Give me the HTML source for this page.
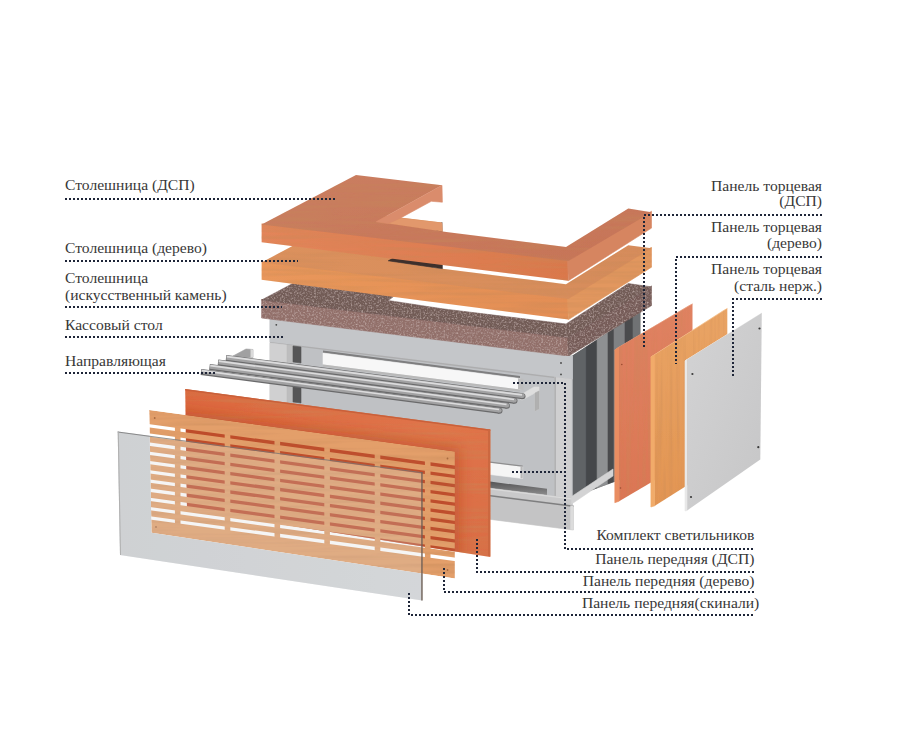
<!DOCTYPE html>
<html><head><meta charset="utf-8">
<style>
html,body{margin:0;padding:0;background:#fff;}
body{width:900px;height:746px;overflow:hidden;position:relative;}
svg{position:absolute;left:0;top:0;}
.t{font-family:"Liberation Serif",serif;font-size:15.6px;fill:#383838;}
.d{stroke:#1e2538;stroke-width:2;stroke-dasharray:2 2;fill:none;shape-rendering:crispEdges;}
</style></head><body>
<svg width="900" height="746" viewBox="0 0 900 746">

<defs>
<linearGradient id="dspTop" x1="0" y1="0" x2="1" y2="1">
<stop offset="0" stop-color="#ca7e60"/><stop offset="1" stop-color="#c67458"/></linearGradient>
<linearGradient id="dspFront" x1="0" y1="0" x2="1" y2="0">
<stop offset="0" stop-color="#e3855a"/><stop offset="1" stop-color="#da784c"/></linearGradient>
<linearGradient id="woodTop" x1="0" y1="0" x2="1" y2="0">
<stop offset="0" stop-color="#dc915d"/><stop offset="1" stop-color="#d68c5b"/></linearGradient>
<linearGradient id="woodFront" x1="0" y1="0" x2="1" y2="0">
<stop offset="0" stop-color="#e9975b"/><stop offset="1" stop-color="#e38e55"/></linearGradient>
<linearGradient id="panelDsp" x1="0" y1="0" x2="1" y2="1">
<stop offset="0" stop-color="#dc683e"/><stop offset="0.55" stop-color="#e0744a"/><stop offset="1" stop-color="#da6c44"/></linearGradient>
<linearGradient id="glassG" x1="0" y1="0" x2="1" y2="0">
<stop offset="0" stop-color="#cdd0d3"/><stop offset="1" stop-color="#d4d7da"/></linearGradient>
<linearGradient id="endRed" x1="0" y1="0" x2="0" y2="1">
<stop offset="0" stop-color="#e08262"/><stop offset="1" stop-color="#db7654"/></linearGradient>
<linearGradient id="endWood" x1="0" y1="0" x2="0" y2="1">
<stop offset="0" stop-color="#e9a465"/><stop offset="1" stop-color="#e29553"/></linearGradient>
<linearGradient id="endSteel" x1="0" y1="0" x2="1" y2="1">
<stop offset="0" stop-color="#d3d3d4"/><stop offset="1" stop-color="#c6c6c7"/></linearGradient>
<filter id="speck" x="0" y="0" width="1" height="1">
<feTurbulence type="fractalNoise" baseFrequency="0.55" numOctaves="2" seed="7" result="n"/>
<feColorMatrix in="n" type="matrix" values="0 0 0 0 0.70  0 0 0 0 0.56  0 0 0 0 0.53  0.9 0.9 0 0 -0.86" result="light"/>
<feComposite in="light" in2="SourceGraphic" operator="in" result="lc"/>
<feColorMatrix in="n" type="matrix" values="0 0 0 0 0.36  0 0 0 0 0.26  0 0 0 0 0.25  0 -0.9 -0.9 0 0.7" result="dark"/>
<feComposite in="dark" in2="SourceGraphic" operator="in" result="dc"/>
<feMerge><feMergeNode in="SourceGraphic"/><feMergeNode in="lc"/><feMergeNode in="dc"/></feMerge>
</filter>
<filter id="grain" x="0" y="0" width="1" height="1">
<feTurbulence type="fractalNoise" baseFrequency="0.012 0.25" numOctaves="2" seed="4" result="n"/>
<feColorMatrix in="n" type="matrix" values="0 0 0 0 0.55  0 0 0 0 0.25  0 0 0 0 0.1  0.9 0 0 0 -0.36" result="g"/>
<feComposite in="g" in2="SourceGraphic" operator="in" result="gc"/>
<feMerge><feMergeNode in="SourceGraphic"/><feMergeNode in="gc"/></feMerge>
</filter>
<filter id="vgrain" x="0" y="0" width="1" height="1">
<feTurbulence type="fractalNoise" baseFrequency="0.3 0.01" numOctaves="2" seed="9" result="n"/>
<feColorMatrix in="n" type="matrix" values="0 0 0 0 0.55  0 0 0 0 0.25  0 0 0 0 0.1  0.8 0 0 0 -0.34" result="g"/>
<feComposite in="g" in2="SourceGraphic" operator="in" result="gc"/>
<feMerge><feMergeNode in="SourceGraphic"/><feMergeNode in="gc"/></feMerge>
</filter>
</defs>
<g id="body">
<polygon points="572.4,356 640,312 640,472 572.4,497" fill="#5b5b5b" stroke="#5b5b5b" stroke-width="0.6" stroke-linejoin="round"/>
<polygon points="572.4,356 586.3,346.953 586.3,491.859 572.4,497" fill="#606366" stroke="#606366" stroke-width="0.6" stroke-linejoin="round"/>
<polygon points="586.3,346.953 597.1,339.923 597.1,487.865 586.3,491.859" fill="#45474a" stroke="#45474a" stroke-width="0.6" stroke-linejoin="round"/>
<polygon points="597.1,339.923 608,332.828 608,483.834 597.1,487.865" fill="#8e9092" stroke="#8e9092" stroke-width="0.6" stroke-linejoin="round"/>
<polygon points="608,332.828 614,328.923 614,481.615 608,483.834" fill="#4a4b4d" stroke="#4a4b4d" stroke-width="0.6" stroke-linejoin="round"/>
<polygon points="614,328.923 625,321.763 625,477.547 614,481.615" fill="#808284" stroke="#808284" stroke-width="0.6" stroke-linejoin="round"/>
<polygon points="625,321.763 633,316.556 633,474.589 625,477.547" fill="#4a4b4d" stroke="#4a4b4d" stroke-width="0.6" stroke-linejoin="round"/>
<polygon points="633,316.556 640,312 640,472 633,474.589" fill="#707274" stroke="#707274" stroke-width="0.6" stroke-linejoin="round"/>
<polygon points="270,318 572.4,356 572.4,505.6 270,467" fill="#bfc1c4" stroke="#bfc1c4" stroke-width="0.6" stroke-linejoin="round"/>
<polygon points="270,318 572.4,356 572.4,379 270,342" fill="#c4c6c9" stroke="#c4c6c9" stroke-width="0.6" stroke-linejoin="round"/>
<polygon points="270,342 572.4,379 572.4,380.3 270,343.3" fill="#adadae"/>
<polygon points="270,343 287,345 287,470 270,468" fill="#d0d0d1" stroke="#d0d0d1" stroke-width="0.6" stroke-linejoin="round"/>
<polygon points="287,345 293,345.8 293,470 287,470" fill="#bdbdbe" stroke="#bdbdbe" stroke-width="0.6" stroke-linejoin="round"/>
<polygon points="293,346 301,347 301,363 293,362" fill="#555556" stroke="#555556" stroke-width="0.6" stroke-linejoin="round"/>
<polygon points="293,386 301,387 301,403 293,402" fill="#555556" stroke="#555556" stroke-width="0.6" stroke-linejoin="round"/>
<polygon points="554.5,377 571.6,379 571.6,498.3 554.5,496.2" fill="#cfcfd0" stroke="#cfcfd0" stroke-width="0.6" stroke-linejoin="round"/>
<polygon points="554.5,377 555.7,377.2 555.7,496.3 554.5,496.2" fill="#a5a5a6"/>
<circle cx="561" cy="363" r="0.9" fill="#444"/><circle cx="561" cy="374.4" r="0.9" fill="#444"/><circle cx="276.3" cy="324.8" r="0.9" fill="#444"/>
<polygon points="323,350.5 520,376 520,378.5 323,353" fill="#7e7e7f"/>
<polygon points="323,353 520,378.5 520,389.5 323,364.5" fill="#f7f7f7" stroke="#f7f7f7" stroke-width="0.6" stroke-linejoin="round"/>
<polygon points="323,364.5 520,389.5 520,391.5 323,366.5" fill="#b9b9b9"/>
<polygon points="518,378.3 523.5,379 523.5,390 518,389.3" fill="#bdbdbd"/>
<polygon points="490,462.8 522.7,466.8 522.7,478.5 490,474.5" fill="#f5f5f5" stroke="#f5f5f5" stroke-width="0.6" stroke-linejoin="round"/>
<polygon points="490,461.5 522.7,465.5 522.7,466.8 490,462.8" fill="#8e8e8f"/>
<polygon points="520.5,466.5 522.7,466.8 522.7,478.5 520.5,478.2" fill="#b8b8b8"/>
<linearGradient id="dstrip" x1="0" y1="0" x2="0" y2="1"><stop offset="0" stop-color="#555556"/><stop offset="1" stop-color="#8d8d8e"/></linearGradient>
<polygon points="490,481.6 547,488.8 547,495.3 490,488.3" fill="url(#dstrip)"/>
<polygon points="270,461 571.6,498.3 571.6,505.6 270,468.3" fill="#c9c9ca" stroke="#c9c9ca" stroke-width="0.6" stroke-linejoin="round"/>
<polygon points="270,461 571.6,498.3 571.6,499.5 270,462.2" fill="#d9d9d9"/>
<polygon points="571.6,496.5 613,469 613,476 571.6,504" fill="#d3d3d4" stroke="#d3d3d4" stroke-width="0.6" stroke-linejoin="round"/>
<polygon points="265,466.2 573.4,505.6 573.4,530 265,490.6" fill="#c4c4c5" stroke="#c4c4c5" stroke-width="0.6" stroke-linejoin="round"/>
<polygon points="265,466.2 573.4,505.6 573.4,507 265,467.6" fill="#7e7e7f"/>
<polygon points="570.3,505.4 573.4,505.6 573.4,530 570.3,529.6" fill="#dcdcdc"/>
</g>
<g id="stone">
<polygon points="261.6,299 568.6,336.8 568.6,356 261.6,318" fill="#926f6a" stroke="#926f6a" stroke-width="0.6" stroke-linejoin="round" filter="url(#speck)"/>
<polygon points="567.6,337.4 651.5,285.9 651.5,305.6 568.6,356" fill="#765c58" stroke="#765c58" stroke-width="0.6" stroke-linejoin="round" filter="url(#speck)"/>
<polygon points="356,250 442,260.3 388.2,300.5 442.4,308.8 566,324 628.3,283.6 651.5,286.9 568.6,337.8 261.6,300" fill="#725b57" stroke="#725b57" stroke-width="0.6" stroke-linejoin="round" filter="url(#speck)"/>
</g>
<g id="woodtop">
<polygon points="261.6,261.4 568.4,298.1 568.4,319.6 261.6,279.8" fill="url(#woodFront)" filter="url(#grain)"/>
<polygon points="567.4,298.6 651.5,247.2 651.5,267.2 568.4,319.6" fill="#e2975e" stroke="#e2975e" stroke-width="0.6" stroke-linejoin="round" filter="url(#grain)"/>
<polygon points="356,212.2 442,222.5 431.3,238.5 388.2,260.8 442.4,268.7 566,284.2 628.3,245.2 651.5,248.2 568.4,299.1 261.6,262.4" fill="url(#woodTop)" filter="url(#grain)"/>
<polygon points="442,222.5 442.4,268.7 388.2,260.8 431.3,238.5" fill="#3e302c" stroke="#3e302c" stroke-width="0.6" stroke-linejoin="round"/>
</g>
<g id="dsptop">
<polygon points="388.2,223.6 400.2,218.2 442,223.1 442.4,231.5" fill="#e2986c" stroke="#e2986c" stroke-width="0.6" stroke-linejoin="round"/>
<polygon points="261.6,223.4 568.4,260.1 568.4,280.7 261.6,242.3" fill="url(#dspFront)" filter="url(#grain)"/>
<polygon points="567.4,260.7 651.5,211.2 651.5,228.1 568.4,280.7" fill="#d68560" stroke="#d68560" stroke-width="0.6" stroke-linejoin="round"/>
<polygon points="356,175 442,185.3 376.2,221.8 442.4,231.5 566,247 628.3,208.6 651.5,212.2 568.4,261.1 261.6,224.4" fill="url(#dspTop)" filter="url(#grain)"/>
<polygon points="442,185.3 442.4,202.2 431.3,201.3 400.2,218.2 388.2,223.6 376.2,221.8" fill="#da8c6c" stroke="#da8c6c" stroke-width="0.6" stroke-linejoin="round"/>
</g>
<g id="rails">
<polygon points="233,356 246,349 253,349.5 253,357.5 240,358" fill="#a0a0a1" stroke="#a0a0a1" stroke-width="0.6" stroke-linejoin="round"/>
<polygon points="250.5,349.3 253,349.5 253,357.5 250.5,357.5" fill="#dadada"/>
<polygon points="517,397 534,387 539,387 539,409 535,411 535,393 522,400" fill="#dedede" stroke="#dedede" stroke-width="0.6" stroke-linejoin="round"/>
<polygon points="535,393 539,391 539,409 535,411" fill="#b0b0b0" stroke="#b0b0b0" stroke-width="0.6" stroke-linejoin="round"/>
<g stroke-linecap="butt" fill="none">
<circle cx="522.5" cy="396.2" r="3" fill="#6a6a6b"/>
<line x1="226" y1="358" x2="522.5" y2="396.2" stroke="#6a6a6b" stroke-width="6"/>
<circle cx="522.5" cy="395.8" r="2.2" fill="#a2a2a3"/>
<line x1="226.5" y1="357.6" x2="522.5" y2="395.8" stroke="#a2a2a3" stroke-width="4.4"/>
<line x1="226.8" y1="356.7" x2="522.0" y2="394.9" stroke="#dcdcdd" stroke-width="1.7"/>
<circle cx="514.5" cy="400.8" r="3" fill="#6a6a6b"/>
<line x1="218" y1="362.5" x2="514.5" y2="400.8" stroke="#6a6a6b" stroke-width="6"/>
<circle cx="514.5" cy="400.4" r="2.2" fill="#a2a2a3"/>
<line x1="218.5" y1="362.1" x2="514.5" y2="400.4" stroke="#a2a2a3" stroke-width="4.4"/>
<line x1="218.8" y1="361.2" x2="514.0" y2="399.5" stroke="#dcdcdd" stroke-width="1.7"/>
<circle cx="507" cy="405.8" r="3" fill="#6a6a6b"/>
<line x1="209.5" y1="367" x2="507" y2="405.8" stroke="#6a6a6b" stroke-width="6"/>
<circle cx="507" cy="405.4" r="2.2" fill="#a2a2a3"/>
<line x1="210.0" y1="366.6" x2="507" y2="405.4" stroke="#a2a2a3" stroke-width="4.4"/>
<line x1="210.3" y1="365.7" x2="506.5" y2="404.5" stroke="#dcdcdd" stroke-width="1.7"/>
<circle cx="499.5" cy="410.8" r="3" fill="#6a6a6b"/>
<line x1="201" y1="372" x2="499.5" y2="410.8" stroke="#6a6a6b" stroke-width="6"/>
<circle cx="499.5" cy="410.4" r="2.2" fill="#a2a2a3"/>
<line x1="201.5" y1="371.6" x2="499.5" y2="410.4" stroke="#a2a2a3" stroke-width="4.4"/>
<line x1="201.8" y1="370.7" x2="499.0" y2="409.5" stroke="#dcdcdd" stroke-width="1.7"/>
</g></g>
<g id="fpanels">
<polygon points="117.7,431.5 422.4,472.3 422.4,600.6 120,555" fill="url(#glassG)"/>
<polygon points="149.2,410 454.9,451.6 454.9,578.5 151.5,532.8" fill="#ffffff"/>
<polygon points="185.2,389 490.3,429.5 490.3,557 187,509.5" fill="url(#panelDsp)" filter="url(#grain)"/>
<polygon points="185.2,389 490.3,429.5 490.3,431 185.2,390.5" fill="#c9603a"/>
<polygon points="488,429.2 490.3,429.5 490.3,556.3 488,556" fill="#cc6840"/>
<mask id="slatMask" maskUnits="userSpaceOnUse" x="0" y="0" width="900" height="746">
<polygon points="149.2,410 454.9,451.6 454.9,578.5 151.5,532.8" fill="#fff"/>
<polygon points="146.2,423.69 457.9,466.11 457.9,469.41 146.2,426.99" fill="#000"/>
<polygon points="146.2,432.89 457.9,475.31 457.9,478.61 146.2,436.19" fill="#000"/>
<polygon points="146.2,442.09 457.9,484.51 457.9,487.81 146.2,445.39" fill="#000"/>
<polygon points="146.2,451.29 457.9,493.71 457.9,497.01 146.2,454.59" fill="#000"/>
<polygon points="146.2,460.49 457.9,502.91 457.9,506.21 146.2,463.79" fill="#000"/>
<polygon points="146.2,469.69 457.9,512.11 457.9,515.41 146.2,472.99" fill="#000"/>
<polygon points="146.2,478.89 457.9,521.31 457.9,524.61 146.2,482.19" fill="#000"/>
<polygon points="146.2,488.09 457.9,530.51 457.9,533.81 146.2,491.39" fill="#000"/>
<polygon points="146.2,497.29 457.9,539.71 457.9,543.01 146.2,500.59" fill="#000"/>
<polygon points="146.2,506.49 457.9,548.91 457.9,552.21 146.2,509.79" fill="#000"/>
<polygon points="146.2,515.69 457.9,558.11 457.9,561.41 146.2,518.99" fill="#000"/>
<polygon points="174.9,423.50 180.5,424.26 180.5,530.26 174.9,529.50" fill="#fff"/>
<polygon points="224.7,430.27 230.3,431.04 230.3,537.04 224.7,536.27" fill="#fff"/>
<polygon points="274.5,437.05 280.1,437.81 280.1,543.81 274.5,543.05" fill="#fff"/>
<polygon points="324.3,443.83 329.9,444.59 329.9,550.59 324.3,549.83" fill="#fff"/>
<polygon points="374.7,450.69 380.3,451.45 380.3,557.45 374.7,556.69" fill="#fff"/>
<polygon points="424.9,457.52 430.5,458.28 430.5,564.28 424.9,563.52" fill="#fff"/>
</mask>
<clipPath id="dspClip"><polygon points="185.2,389 490.3,429.5 490.3,557 187,509.5"/></clipPath>
<filter id="blur8" x="-0.2" y="-0.2" width="1.4" height="1.4"><feGaussianBlur stdDeviation="7"/></filter>
<g clip-path="url(#dspClip)"><polygon points="153.2,407 458.9,448.6 458.9,575.5 155.5,529.8" fill="#b03818" fill-opacity="0.45" filter="url(#blur8)"/></g>
<polygon points="149.2,410 454.9,451.6 454.9,578.5 151.5,532.8" fill="#a83c20" fill-opacity="0.3" clip-path="url(#dspClip)"/>
<g mask="url(#slatMask)">
<polygon points="149.2,410 454.9,451.6 454.9,578.5 151.5,532.8" fill="#e39f6b" filter="url(#grain)"/>
<circle cx="154.7" cy="418" r="0.9" fill="#a86a40"/>
<circle cx="156" cy="527" r="0.9" fill="#a86a40"/>
<circle cx="447.5" cy="458.5" r="0.9" fill="#a86a40"/>
<circle cx="447.5" cy="570" r="0.9" fill="#a86a40"/>
</g>
<polygon points="117.7,431.5 422.4,472.3 422.4,600.6 120,555" fill="#d4d4d4" fill-opacity="0.24"/>
<polygon points="117.7,431.5 422.4,472.3 422.4,473.3 117.7,432.5" fill="#6a6a6a" fill-opacity="0.7"/>
<polygon points="421.3,472.2 422.6,472.3 422.6,600.6 421.3,600.5" fill="#6a5a50"/>
<polygon points="117.7,431.5 118.8,431.6 121,555 120,555" fill="#b0b0b0"/>
</g>
<g id="epanels">
<polygon points="614.8,350 688.5,306 692.5,303.9 619.1,347" fill="#eaa080" stroke="#eaa080" stroke-width="0.6" stroke-linejoin="round"/>
<polygon points="614.8,350 619.1,347 619.1,501.2 614.8,502.7" fill="#e98d62" stroke="#e98d62" stroke-width="0.6" stroke-linejoin="round"/>
<polygon points="619.1,347 692.5,303.9 692.5,458 619.1,501.2" fill="url(#endRed)" filter="url(#vgrain)"/>
<polygon points="650.9,357 723.5,310.5 727.3,308.5 654.9,354.7" fill="#f5c28e" stroke="#f5c28e" stroke-width="0.6" stroke-linejoin="round"/>
<polygon points="650.9,357 654.9,354.7 654.9,505.8 650.9,507" fill="#f1ab6a" stroke="#f1ab6a" stroke-width="0.6" stroke-linejoin="round"/>
<polygon points="654.9,354.7 727.3,308.5 727.3,460 654.9,505.8" fill="url(#endWood)" filter="url(#vgrain)"/>
<polygon points="685,361 759.5,314.5 761.8,313.1 687.2,359.4" fill="#efefef" stroke="#efefef" stroke-width="0.6" stroke-linejoin="round"/>
<polygon points="685,361 687.2,359.4 687.2,510.4 685,511" fill="#e8e8e8" stroke="#e8e8e8" stroke-width="0.6" stroke-linejoin="round"/>
<polygon points="687.2,359.4 761.8,313.1 760.3,459.5 687.2,510.4" fill="url(#endSteel)"/>
<circle cx="692.4" cy="374" r="1.1" fill="#3a3a3a"/>
<circle cx="759.5" cy="328.5" r="1.1" fill="#3a3a3a"/>
<circle cx="758.3" cy="447.2" r="1.1" fill="#3a3a3a"/>
<circle cx="691" cy="497" r="1.1" fill="#3a3a3a"/>
<circle cx="621.8" cy="364.5" r="0.8" fill="#9a4a30"/>
<circle cx="620.5" cy="488" r="0.8" fill="#9a4a30"/>
</g>
<g>
<text class="t" x="65" y="190.4">Столешница (ДСП)</text>
<text class="t" x="65" y="253.3">Столешница (дерево)</text>
<text class="t" x="65" y="282.9">Столешница</text>
<text class="t" x="65" y="299.6">(искусственный камень)</text>
<text class="t" x="65" y="329.6">Кассовый стол</text>
<text class="t" x="65" y="365.6">Направляющая</text>
<text class="t" x="822" y="190.9" text-anchor="end">Панель торцевая</text>
<text class="t" x="822" y="206.2" text-anchor="end">(ДСП)</text>
<text class="t" x="822" y="232.2" text-anchor="end">Панель торцевая</text>
<text class="t" x="822" y="247.8" text-anchor="end">(дерево)</text>
<text class="t" x="822" y="274.4" text-anchor="end">Панель торцевая</text>
<text class="t" x="822" y="291.1" text-anchor="end">(сталь нерж.)</text>
<text class="t" x="754.4" y="539.8" text-anchor="end">Комплект светильников</text>
<text class="t" x="754.4" y="563.8" text-anchor="end">Панель передняя (ДСП)</text>
<text class="t" x="754.4" y="585.8" text-anchor="end">Панель передняя (дерево)</text>
<text class="t" x="759.3" y="607.8" text-anchor="end">Панель передняя(скинали)</text>
</g>
<g class="d">
<path d="M65 199H335"/>
<path d="M65 261H298"/>
<path d="M65 307H282"/>
<path d="M65 337H283"/>
<path d="M65 373H217"/>
<path d="M822 215H644V349"/>
<path d="M822 257H676V364"/>
<path d="M822 299H733V376"/>
<path d="M513 383H565V549H755"/>
<path d="M512 472H565"/>
<path d="M477 539V572H755"/>
<path d="M444 568V592H755"/>
<path d="M409 593V615H755"/>
</g>

</svg>
</body></html>
